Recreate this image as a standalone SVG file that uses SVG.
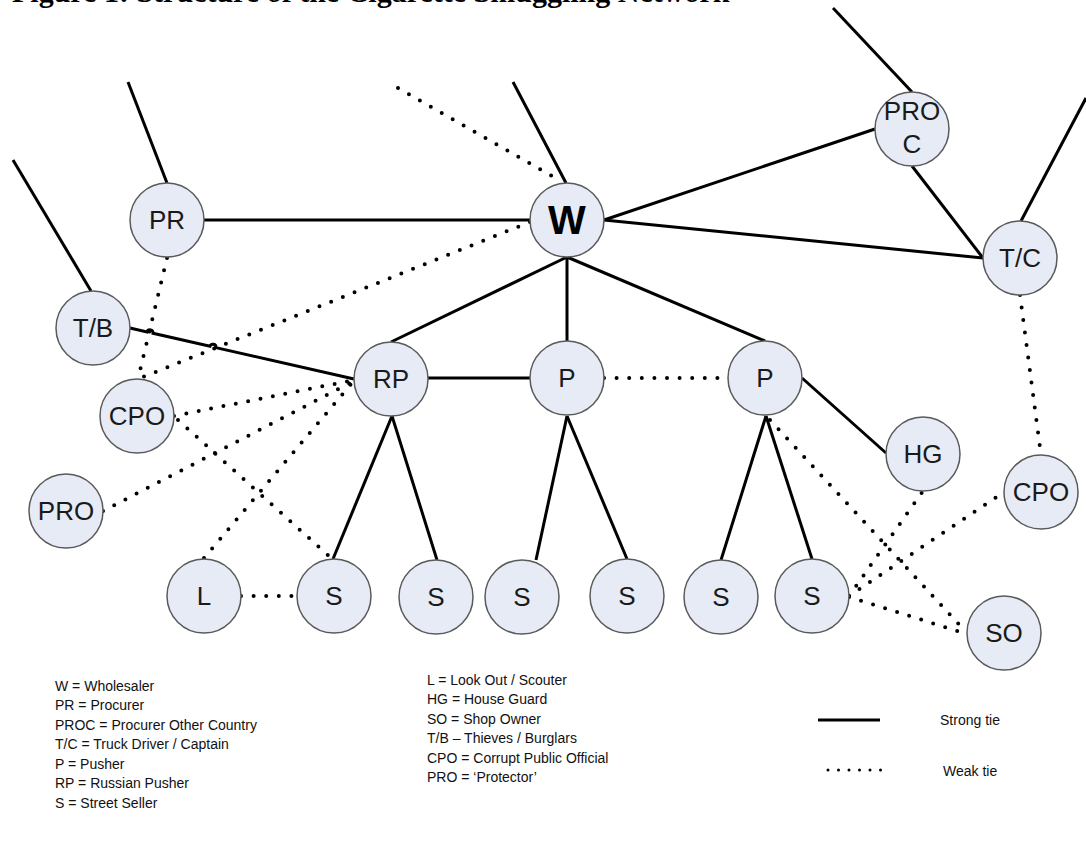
<svg xmlns="http://www.w3.org/2000/svg" width="1086" height="848" viewBox="0 0 1086 848">
<style>
.n{fill:#e6ebf5;stroke:#5a5a5a;stroke-width:1.5}
.t{font-family:"Liberation Sans",Arial,sans-serif;font-size:26px;fill:#1a1a1a;text-anchor:middle}
.tw{font-size:40px;font-weight:bold;fill:#000}
.s{stroke:#000;stroke-width:3;fill:none;stroke-linecap:butt}
.w{stroke:#000;stroke-width:4;fill:none;stroke-linecap:round;stroke-dasharray:0 12.6}
.lg{font-family:"Liberation Sans",Arial,sans-serif;font-size:14px;fill:#111}
</style>
<rect width="1086" height="848" fill="#fff"/>
<text x="12" y="2" font-family="'Liberation Serif','Times New Roman',serif" font-weight="bold" font-size="30" fill="#000">Figure 1: Structure of the Cigarette Smuggling Network</text>
<g id="connectors">
<line class="s" x1="128" y1="82" x2="167" y2="183"/>
<line class="s" x1="13" y1="160" x2="91" y2="291"/>
<line class="s" x1="204" y1="220" x2="530" y2="220"/>
<line class="s" x1="513" y1="82" x2="566" y2="183"/>
<line class="s" x1="604" y1="220" x2="875" y2="129"/>
<line class="s" x1="604" y1="220" x2="983" y2="258"/>
<line class="s" x1="912" y1="166" x2="983" y2="258"/>
<line class="s" x1="833" y1="8" x2="912" y2="92"/>
<line class="s" x1="1086" y1="98" x2="1021" y2="221"/>
<line class="s" x1="567" y1="257" x2="391" y2="342"/>
<line class="s" x1="567" y1="257" x2="567" y2="341"/>
<line class="s" x1="567" y1="257" x2="765" y2="341"/>
<path class="s" d="M130,328 L147,331.9 A3.1,3.1 0 0 1 153,333.3 L210,346.3 A3.1,3.1 0 0 1 216,347.7 L354,379"/>
<line class="s" x1="428" y1="378" x2="530" y2="378"/>
<line class="s" x1="802" y1="378" x2="886" y2="453"/>
<line class="s" x1="392" y1="416" x2="333" y2="559"/>
<line class="s" x1="392" y1="416" x2="437" y2="560"/>
<line class="s" x1="567" y1="416" x2="536" y2="560"/>
<line class="s" x1="567" y1="416" x2="627" y2="559"/>
<line class="s" x1="766" y1="416" x2="721" y2="560"/>
<line class="s" x1="766" y1="416" x2="812" y2="559"/>
<line class="w" x1="398" y1="88" x2="557" y2="179"/>
<line class="w" x1="167" y1="258" x2="138" y2="379"/>
<line class="w" x1="530" y1="222" x2="138" y2="379"/>
<line class="w" x1="174" y1="416" x2="354" y2="380"/>
<line class="w" x1="178" y1="420" x2="330" y2="557"/>
<line class="w" x1="103" y1="511" x2="352" y2="382"/>
<line class="w" x1="204" y1="558" x2="352" y2="383"/>
<line class="w" x1="241" y1="596" x2="297" y2="596"/>
<line class="w" x1="604" y1="378" x2="728" y2="378"/>
<line class="w" x1="1020" y1="295" x2="1041" y2="455"/>
<line class="w" x1="770" y1="420" x2="966" y2="632"/>
<line class="w" x1="849" y1="597" x2="967" y2="634"/>
<line class="w" x1="849" y1="596" x2="923" y2="491"/>
<line class="w" x1="849" y1="596" x2="1004" y2="492"/>
</g>
<g id="node-PR"><circle class="n" cx="167" cy="220" r="37"/><text class="t" x="167" y="229">PR</text></g>
<g id="node-W"><circle class="n" cx="567" cy="220" r="37"/><text class="t tw" x="567" y="234">W</text></g>
<g id="node-PROC"><circle class="n" cx="912" cy="129" r="37"/><text class="t" x="912" y="120">PRO</text><text class="t" x="912" y="153">C</text></g>
<g id="node-TC"><circle class="n" cx="1020" cy="258" r="37"/><text class="t" x="1020" y="267">T/C</text></g>
<g id="node-TB"><circle class="n" cx="93" cy="328" r="37"/><text class="t" x="93" y="337">T/B</text></g>
<g id="node-CPO1"><circle class="n" cx="137" cy="416" r="37"/><text class="t" x="137" y="425">CPO</text></g>
<g id="node-PRO"><circle class="n" cx="66" cy="511" r="37"/><text class="t" x="66" y="520">PRO</text></g>
<g id="node-RP"><circle class="n" cx="391" cy="379" r="37"/><text class="t" x="391" y="388">RP</text></g>
<g id="node-P1"><circle class="n" cx="567" cy="378" r="37"/><text class="t" x="567" y="387">P</text></g>
<g id="node-P2"><circle class="n" cx="765" cy="378" r="37"/><text class="t" x="765" y="387">P</text></g>
<g id="node-HG"><circle class="n" cx="923" cy="454" r="37"/><text class="t" x="923" y="463">HG</text></g>
<g id="node-CPO2"><circle class="n" cx="1041" cy="492" r="37"/><text class="t" x="1041" y="501">CPO</text></g>
<g id="node-L"><circle class="n" cx="204" cy="596" r="37"/><text class="t" x="204" y="605">L</text></g>
<g id="node-S1"><circle class="n" cx="334" cy="596" r="37"/><text class="t" x="334" y="605">S</text></g>
<g id="node-S2"><circle class="n" cx="436" cy="597" r="37"/><text class="t" x="436" y="606">S</text></g>
<g id="node-S3"><circle class="n" cx="522" cy="597" r="37"/><text class="t" x="522" y="606">S</text></g>
<g id="node-S4"><circle class="n" cx="627" cy="596" r="37"/><text class="t" x="627" y="605">S</text></g>
<g id="node-S5"><circle class="n" cx="721" cy="597" r="37"/><text class="t" x="721" y="606">S</text></g>
<g id="node-S6"><circle class="n" cx="812" cy="596" r="37"/><text class="t" x="812" y="605">S</text></g>
<g id="node-SO"><circle class="n" cx="1004" cy="633" r="37"/><text class="t" x="1004" y="642">SO</text></g>
<g id="legend">
<text class="lg" x="55" y="691">W = Wholesaler</text>
<text class="lg" x="55" y="710">PR = Procurer</text>
<text class="lg" x="55" y="730">PROC = Procurer Other Country</text>
<text class="lg" x="55" y="749">T/C = Truck Driver / Captain</text>
<text class="lg" x="55" y="769">P = Pusher</text>
<text class="lg" x="55" y="788">RP = Russian Pusher</text>
<text class="lg" x="55" y="808">S = Street Seller</text>
<text class="lg" x="427" y="685">L = Look Out / Scouter</text>
<text class="lg" x="427" y="704">HG = House Guard</text>
<text class="lg" x="427" y="724">SO = Shop Owner</text>
<text class="lg" x="427" y="743">T/B – Thieves / Burglars</text>
<text class="lg" x="427" y="763">CPO = Corrupt Public Official</text>
<text class="lg" x="427" y="782">PRO = ‘Protector’</text>
<line x1="818" y1="720" x2="880" y2="720" stroke="#000" stroke-width="3"/>
<text class="lg" x="940" y="725">Strong tie</text>
<line x1="828" y1="770" x2="881" y2="770" stroke="#000" stroke-width="3" stroke-linecap="round" stroke-dasharray="0 10.5"/>
<text class="lg" x="943" y="776">Weak tie</text>
</g>
</svg>
